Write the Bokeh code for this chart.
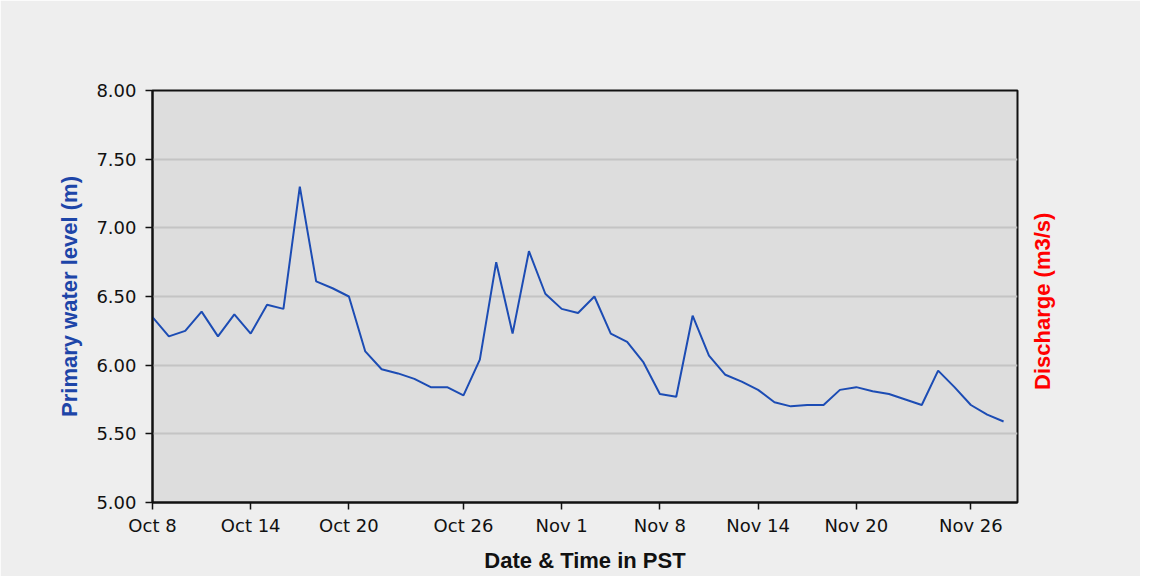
import math
from bokeh.plotting import figure
from bokeh.models import Range1d, LinearAxis, FixedTicker, NumeralTickFormatter
from bokeh.embed import file_html
from bokeh.resources import INLINE

# Primary water level (m), one sample per step along the time axis
levels = [6.35, 6.21, 6.25, 6.39, 6.21, 6.37, 6.23, 6.44, 6.41, 7.30,
          6.61, 6.56, 6.50, 6.10, 5.97, 5.94, 5.90, 5.84, 5.84, 5.78,
          6.04, 6.75, 6.23, 6.83, 6.52, 6.41, 6.38, 6.50, 6.23, 6.17,
          6.02, 5.79, 5.77, 6.36, 6.07, 5.93, 5.88, 5.82, 5.73, 5.70,
          5.71, 5.71, 5.82, 5.84, 5.81, 5.79, 5.75, 5.71, 5.96, 5.84,
          5.71, 5.64, 5.59]
sample = list(range(len(levels)))

tick_index = [0, 6, 12, 19, 25, 31, 37, 43, 50]
tick_labels = ["Oct 8", "Oct 14", "Oct 20", "Oct 26", "Nov 1",
               "Nov 8", "Nov 14", "Nov 20", "Nov 26"]
y_ticks = [5.0, 5.5, 6.0, 6.5, 7.0, 7.5, 8.0]
right_title = "Discharge (m3/s)"

TICK_FONT = "DejaVu Sans"
LABEL_FONT = "Liberation Sans"

p = figure(width=1140, height=576, x_range=Range1d(0, 52.85), y_range=Range1d(5, 8),
           output_backend="svg", toolbar_location=None,
           min_border_left=152, min_border_right=123, min_border_top=90, min_border_bottom=74)

p.background_fill_color = "#dddddd"
p.border_fill_color = "#eeeeee"
p.outline_line_color = "#111111"
p.outline_line_width = 2

p.line(sample, levels, line_color="#1c4cb4", line_width=2)

# x axis
xa = p.xaxis[0]
xa.ticker = FixedTicker(ticks=tick_index)
xa.major_label_overrides = {i: l for i, l in zip(tick_index, tick_labels)}
xa.axis_label = "Date & Time in PST"

# y axis
ya = p.yaxis[0]
ya.ticker = FixedTicker(ticks=y_ticks)
ya.formatter = NumeralTickFormatter(format="0.00")
ya.axis_label = "Primary water level (m)"
ya.axis_label_text_color = "#1d45a8"

for ax in (xa, ya):
    ax.axis_line_color = "#111111"
    ax.axis_line_width = 2
    ax.major_tick_line_color = "#111111"
    ax.major_tick_line_width = 1.5
    ax.major_tick_in = 0
    ax.major_tick_out = 7
    ax.minor_tick_line_color = None
    ax.major_label_text_font = TICK_FONT
    ax.major_label_text_font_size = "18px"
    ax.major_label_text_color = "#111111"
    ax.axis_label_text_font = LABEL_FONT
    ax.axis_label_text_font_style = "bold"
    ax.axis_label_text_font_size = "22px"

xa.axis_label_text_color = "#111111"
xa.major_label_standoff = 5
xa.axis_label_standoff = 9
ya.major_label_standoff = 9
ya.axis_label_standoff = 11

# right axis (discharge): no scale shown, only its title reading bottom-to-top.
# The title is drawn as a single rotated label anchored where it starts.
title_start = 5.82
ra = LinearAxis(ticker=FixedTicker(ticks=[title_start]))
ra.major_label_overrides = {title_start: right_title}
ra.major_label_orientation = math.pi / 2
ra.major_label_text_color = "#ff0000"
ra.major_label_text_font = LABEL_FONT
ra.major_label_text_font_style = "bold"
ra.major_label_text_font_size = "22px"
ra.major_label_standoff = 25
ra.major_tick_out = 0
ra.major_tick_in = 0
ra.axis_line_color = None
ra.major_tick_line_color = None
ra.minor_tick_line_color = None
p.add_layout(ra, "right")

p.xgrid.grid_line_color = None
p.ygrid.ticker = FixedTicker(ticks=y_ticks)
p.ygrid.grid_line_color = "#c4c4c4"
p.ygrid.grid_line_width = 2

open("out.html", "w").write(file_html(p, INLINE))
